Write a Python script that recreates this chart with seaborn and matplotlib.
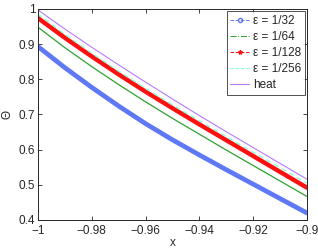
import matplotlib
matplotlib.use("Agg")
import matplotlib.pyplot as plt
import seaborn as sns
from matplotlib.lines import Line2D

# ========== DATA ==========
x_vals = [-1.0, -0.99, -0.98, -0.97, -0.96, -0.95, -0.94, -0.93, -0.92, -0.91, -0.90]
eps_32 = [0.893, 0.833, 0.777, 0.724, 0.674, 0.628, 0.585, 0.543, 0.502, 0.461, 0.420]
eps_64 = [0.948, 0.890, 0.836, 0.785, 0.736, 0.689, 0.644, 0.599, 0.555, 0.511, 0.467]
eps_128 = [0.974, 0.918, 0.865, 0.814, 0.765, 0.718, 0.672, 0.627, 0.582, 0.537, 0.492]
eps_256 = [0.986, 0.928, 0.874, 0.823, 0.774, 0.727, 0.682, 0.637, 0.593, 0.549, 0.505]
heat = [0.997, 0.943, 0.891, 0.841, 0.792, 0.744, 0.697, 0.651, 0.606, 0.561, 0.516]
labels = ["ε = 1/32", "ε = 1/64", "ε = 1/128", "ε = 1/256", "heat"]
x_ticks = [-1, -0.98, -0.96, -0.94, -0.92, -0.9]
x_tick_labels = ["−1", "−0.98", "−0.96", "−0.94", "−0.92", "−0.9"]
y_ticks = [0.4, 0.5, 0.6, 0.7, 0.8, 0.9, 1.0]
y_tick_labels = ["0.4", "0.5", "0.6", "0.7", "0.8", "0.9", "1"]

# ========== STYLE ==========
sns.set_style("ticks")
plt.rcParams["font.family"] = ["Liberation Sans", "DejaVu Sans"]
plt.rcParams["font.size"] = 8.5
plt.rcParams["xtick.direction"] = "in"
plt.rcParams["ytick.direction"] = "in"

BLUE, GREEN, RED, CYAN, PURPLE = "#5f78f5", "#2ea02e", "#ff1010", "#7fffd4", "#b77aff"

fig = plt.figure(figsize=(3.18, 2.49), dpi=100)
ax = fig.add_axes([0.1195, 0.1165, 0.8455, 0.8475])

sns.lineplot(x=x_vals, y=eps_32, ax=ax, color=BLUE, lw=3.4)
sns.lineplot(x=x_vals, y=eps_64, ax=ax, color=GREEN, lw=0.9)
sns.lineplot(x=x_vals, y=eps_128, ax=ax, color=RED, lw=3.2)
sns.lineplot(x=x_vals, y=eps_256, ax=ax, color=CYAN, lw=0.9, linestyle=(0, (4, 3)))
sns.lineplot(x=x_vals, y=heat, ax=ax, color=PURPLE, lw=0.8)

ax.set_xlim(-1, -0.9)
ax.set_ylim(0.4, 1.0)
ax.set_xticks(x_ticks)
ax.set_xticklabels(x_tick_labels)
ax.set_yticks(y_ticks)
ax.set_yticklabels(y_tick_labels)
ax.tick_params(top=True, right=True, length=3, width=0.6, labelsize=8.5)
ax.tick_params(axis="x", pad=3.5)
ax.tick_params(axis="y", pad=2)
for s in ax.spines.values():
    s.set_linewidth(0.7)
ax.set_xlabel("x", fontsize=8.5, labelpad=0)
ax.set_ylabel("Θ", fontsize=8.5, labelpad=4)

handles = [
    Line2D([], [], color=BLUE, lw=0.7, linestyle="--", marker="o", ms=3, mfc="none"),
    Line2D([], [], color=GREEN, lw=0.7, linestyle="-."),
    Line2D([], [], color=RED, lw=0.7, linestyle="--", marker="*", ms=3),
    Line2D([], [], color=CYAN, lw=0.7, linestyle="--"),
    Line2D([], [], color=PURPLE, lw=0.8),
]
leg = ax.legend(handles, labels, loc="upper right", fontsize=8.5, frameon=True,
                fancybox=False, edgecolor="black", handlelength=1.6, handletextpad=0.3,
                labelspacing=0.35, borderpad=0.3, borderaxespad=0.2)
leg.get_frame().set_linewidth(0.6)

fig.savefig("out.png", dpi=100)
